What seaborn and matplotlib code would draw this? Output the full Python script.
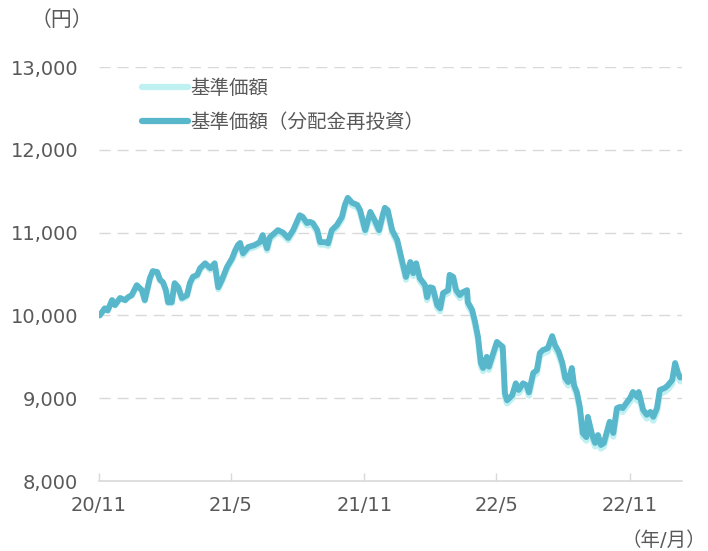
import pandas as pd
import matplotlib
matplotlib.use("Agg")
import matplotlib.pyplot as plt
import seaborn as sns

# dates of the readings
dates = [
    "2020-11-02", "2020-11-09", "2020-11-13", "2020-11-19", "2020-11-23", "2020-11-30",
    "2020-12-07", "2020-12-11", "2020-12-16", "2020-12-23", "2020-12-30",
    "2021-01-03", "2021-01-10", "2021-01-14", "2021-01-20", "2021-01-24", "2021-01-28",
    "2021-02-01", "2021-02-04", "2021-02-09", "2021-02-13", "2021-02-18", "2021-02-23",
    "2021-03-02", "2021-03-06", "2021-03-10", "2021-03-16", "2021-03-20", "2021-03-27",
    "2021-04-03", "2021-04-09", "2021-04-14", "2021-04-19", "2021-04-26",
    "2021-05-03", "2021-05-07", "2021-05-11", "2021-05-14", "2021-05-18", "2021-05-25",
    "2021-06-03", "2021-06-10", "2021-06-14", "2021-06-20", "2021-06-24",
    "2021-07-05", "2021-07-12", "2021-07-19", "2021-07-26",
    "2021-08-04", "2021-08-08", "2021-08-14", "2021-08-18", "2021-08-22", "2021-08-28",
    "2021-09-01", "2021-09-08", "2021-09-12", "2021-09-17", "2021-09-24",
    "2021-10-01", "2021-10-05", "2021-10-09", "2021-10-15", "2021-10-22", "2021-10-26",
    "2021-11-02", "2021-11-09", "2021-11-15", "2021-11-21", "2021-11-26", "2021-11-29",
    "2021-12-03", "2021-12-09", "2021-12-16", "2021-12-23", "2021-12-28",
    "2022-01-03", "2022-01-07", "2022-01-11", "2022-01-16", "2022-01-23", "2022-01-26",
    "2022-01-30", "2022-02-03", "2022-02-09", "2022-02-13", "2022-02-17", "2022-02-24",
    "2022-02-26", "2022-03-03", "2022-03-07", "2022-03-12", "2022-03-16", "2022-03-22",
    "2022-03-23", "2022-03-29", "2022-04-02", "2022-04-06", "2022-04-10", "2022-04-13",
    "2022-04-18", "2022-04-21", "2022-04-27", "2022-05-02", "2022-05-06", "2022-05-10",
    "2022-05-13", "2022-05-16", "2022-05-23", "2022-05-28", "2022-06-01", "2022-06-07",
    "2022-06-12", "2022-06-15", "2022-06-21", "2022-06-26", "2022-06-30",
    "2022-07-04", "2022-07-11", "2022-07-17", "2022-07-21", "2022-07-26", "2022-07-31",
    "2022-08-04", "2022-08-08", "2022-08-13", "2022-08-16", "2022-08-20", "2022-08-24",
    "2022-08-28", "2022-09-02", "2022-09-04", "2022-09-10", "2022-09-14", "2022-09-18",
    "2022-09-22", "2022-09-26", "2022-09-30", "2022-10-04", "2022-10-09", "2022-10-14",
    "2022-10-18", "2022-10-22", "2022-10-28", "2022-11-01", "2022-11-05", "2022-11-11",
    "2022-11-13", "2022-11-19", "2022-11-24", "2022-11-29", "2022-12-03", "2022-12-08",
    "2022-12-12", "2022-12-19", "2022-12-23", "2022-12-29", "2023-01-02", "2023-01-06",
    "2023-01-09",
]

# 基準価額（分配金再投資）
nav_reinvest = [
    10000, 10085, 10060, 10185, 10125, 10210,
    10185, 10220, 10245, 10365, 10305,
    10185, 10450, 10535, 10525, 10430, 10400,
    10305, 10160, 10160, 10390, 10340, 10210,
    10245, 10390, 10465, 10490, 10570, 10630,
    10570, 10630, 10340, 10430, 10585,
    10690, 10780, 10850, 10875, 10750, 10825,
    10850, 10885, 10970, 10810, 10945,
    11030, 11000, 10935, 11030,
    11210, 11190, 11115, 11130, 11115, 11030,
    10885, 10885, 10870, 11030, 11090,
    11190, 11335, 11420, 11360, 11335, 11270,
    11030, 11250, 11150, 11030, 11210, 11300,
    11270, 11030, 10910, 10645, 10465,
    10645, 10510, 10630, 10450, 10370, 10220,
    10340, 10330, 10125, 10085, 10270, 10305,
    10490, 10465, 10305, 10245, 10280, 10305,
    10160, 10065, 9920, 9740, 9425, 9365,
    9500, 9380, 9545, 9680, 9650, 9620,
    9060, 8975, 9035, 9180, 9100, 9180,
    9155, 9070, 9305, 9340, 9545,
    9580, 9605, 9750, 9640, 9560, 9425,
    9245, 9195, 9365, 9160, 9070, 8895,
    8580, 8530, 8775, 8555, 8460, 8555,
    8435, 8460, 8590, 8715, 8580, 8880,
    8895, 8880, 8955, 9000, 9075, 9015,
    9075, 8860, 8800, 8835, 8775, 8880,
    9100, 9125, 9155, 9220, 9425, 9305,
    9250,
]

# 基準価額
nav = [
    10000, 10084, 10058, 10183, 10122, 10206,
    10180, 10215, 10239, 10358, 10297,
    10176, 10440, 10525, 10514, 10418, 10388,
    10292, 10147, 10146, 10376, 10325, 10194,
    10228, 10373, 10447, 10471, 10551, 10610,
    10549, 10608, 10317, 10407, 10561,
    10665, 10755, 10825, 10849, 10724, 10799,
    10824, 10858, 10943, 10783, 10918,
    11002, 10972, 10907, 11002,
    11181, 11161, 11086, 11101, 11086, 11001,
    10856, 10855, 10840, 11000, 11060,
    11160, 11305, 11389, 11329, 11304, 11239,
    10998, 11218, 11118, 10998, 11177, 11267,
    11237, 10997, 10877, 10612, 10431,
    10611, 10476, 10596, 10416, 10335, 10185,
    10305, 10295, 10090, 10050, 10234, 10269,
    10454, 10429, 10269, 10209, 10243, 10268,
    10123, 10028, 9883, 9703, 9387, 9327,
    9462, 9342, 9507, 9642, 9611, 9581,
    9021, 8936, 8996, 9140, 9060, 9140,
    9115, 9030, 9265, 9299, 9504,
    9539, 9564, 9709, 9599, 9518, 9383,
    9203, 9153, 9323, 9118, 9028, 8852,
    8537, 8487, 8732, 8512, 8417, 8511,
    8391, 8416, 8546, 8671, 8536, 8836,
    8850, 8835, 8910, 8955, 9030, 8970,
    9030, 8814, 8754, 8789, 8729, 8834,
    9054, 9078, 9108, 9173, 9378, 9258,
    9203,
]

tick_dates = ["2020-11-01", "2021-05-01", "2021-11-01", "2022-05-01", "2022-11-01"]
tick_labels = ["20/11", "21/5", "21/11", "22/5", "22/11"]
y_ticks = [8000, 9000, 10000, 11000, 12000, 13000]

df = pd.DataFrame({"date": pd.to_datetime(dates), "nav": nav, "nav_reinvest": nav_reinvest})

sns.set_style("white")
plt.rcParams["font.family"] = ["DejaVu Sans", "Noto Sans CJK JP"]

fig = plt.figure(figsize=(7.08, 5.51), dpi=100)
ax = fig.add_axes([0.1398, 0.127, 0.823, 0.7514])

# light line first, reinvested line on top
sns.lineplot(data=df, x="date", y="nav", color="#bff0f2", linewidth=4.4,
             label="基準価額", ax=ax, solid_joinstyle="round", solid_capstyle="round")
sns.lineplot(data=df, x="date", y="nav_reinvest", color="#58b7cb", linewidth=4.2,
             label="基準価額（分配金再投資）", ax=ax, solid_joinstyle="round", solid_capstyle="round")

ax.set_ylim(8000, 13000)
ax.set_xlim(pd.Timestamp("2020-11-01"), pd.Timestamp("2023-01-11"))
ax.set_yticks(y_ticks)
ax.set_yticklabels([f"{v:,}" for v in y_ticks])
ax.set_xticks(pd.to_datetime(tick_dates))
ax.set_xticklabels(tick_labels)
ax.set_xlabel("")
ax.set_ylabel("")

for v in y_ticks[1:]:
    ax.axhline(v, color="#d9d9d9", linewidth=1, linestyle=(0, (8, 5)), zorder=0)

for side in ["top", "right", "left"]:
    ax.spines[side].set_visible(False)
ax.spines["bottom"].set_color("#d9d9d9")
ax.spines["bottom"].set_linewidth(1.2)

ax.tick_params(axis="y", length=0, pad=15, labelsize=14, labelcolor="#595959")
ax.tick_params(axis="x", direction="in", length=6, width=1, color="#d9d9d9",
               pad=11, labelsize=14, labelcolor="#595959", bottom=True)

leg = ax.legend(loc="upper left", bbox_to_anchor=(0.06, 0.99), frameon=False,
                fontsize=14, handlelength=2.4, handletextpad=0.1, labelspacing=0.75,
                borderaxespad=0)
for t in leg.get_texts():
    t.set_color("#595959")
for h in leg.get_lines():
    h.set_linewidth(4.5)

fig.text(0.088, 0.963, "（円）", ha="center", va="center", fontsize=15, color="#595959")
fig.text(0.998, 0.02, "（年/月）", ha="right", va="center", fontsize=14, color="#595959")

fig.savefig("out.png", dpi=100)
